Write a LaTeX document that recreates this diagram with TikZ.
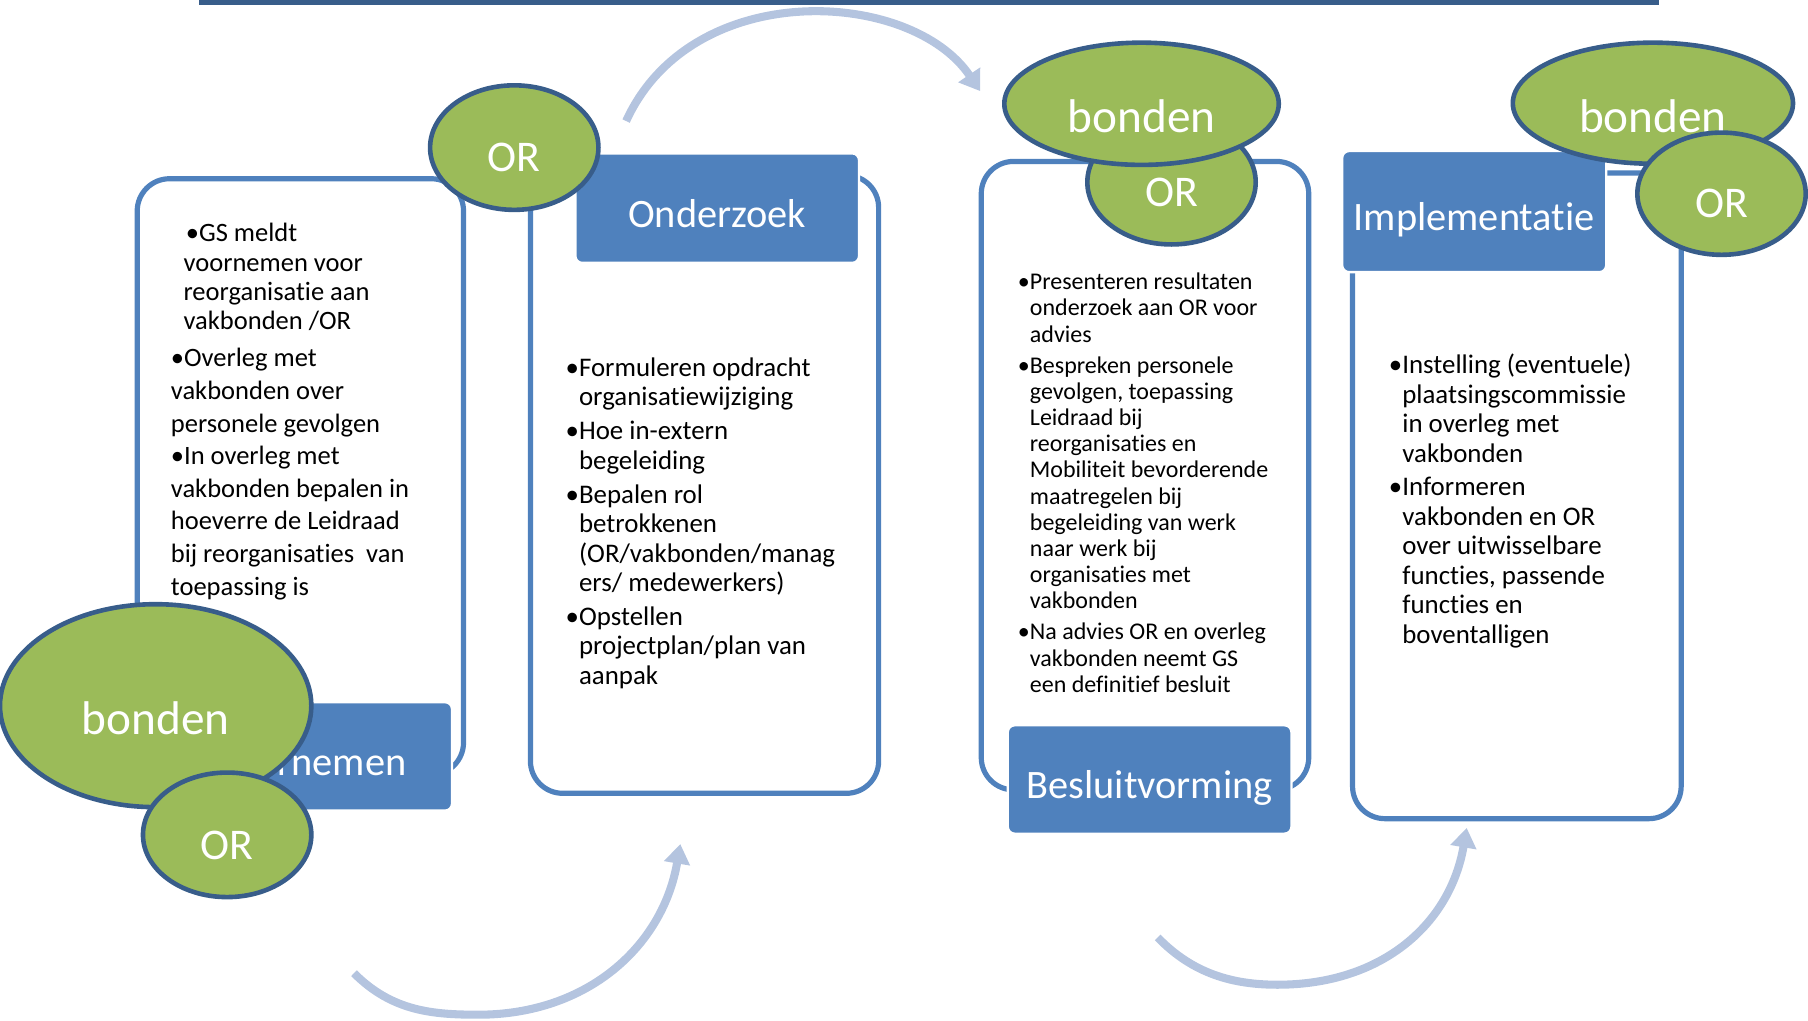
\documentclass[tikz,border=0pt]{standalone}
\usepackage{fontspec}
\setmainfont{Carlito}[Ligatures=NoCommon]
\usetikzlibrary{shapes.geometric,arrows.meta}
\definecolor{boxblue}{HTML}{4F81BD}
\definecolor{edgeblue}{HTML}{385D8A}
\definecolor{leaf}{HTML}{9BBB59}
\definecolor{flow}{HTML}{B4C4DF}
\definecolor{barfill}{HTML}{DCE6F2}
\begin{document}
\begin{tikzpicture}[x=1pt,y=-1pt,
  phasebox/.style={draw=boxblue,line width=4.5pt,rounded corners=28pt,fill=white,inner sep=0pt},
  tag/.style={fill=boxblue,draw=white,line width=2pt,rounded corners=6pt,text=white,
    font=\fontsize{35}{35}\selectfont,inner sep=0pt,text height=33pt,text depth=0pt},
  oval/.style={ellipse,draw=edgeblue,fill=leaf,line width=4pt,inner sep=0pt,text=white},
  ortext/.style={font=\fontsize{38}{38}\selectfont,text height=42pt,text depth=0pt},
  bontext/.style={font=\fontsize{41}{41}\selectfont,text height=50pt,text depth=0pt},
  bullets/.style={anchor=north west,align=left,inner sep=0pt,text=black},
  flowarrow/.style={draw=flow,line width=7pt,-{Triangle[length=17pt,width=22pt]}}
]
\useasboundingbox (0,0) rectangle (1568,885);

% top bar
\node[draw=edgeblue,fill=barfill,line width=4pt,minimum width=1262pt,minimum height=40pt,inner sep=0pt] (bar) at (806,-18) {};

% curved arrows
\coordinate (a1s) at (543,105);
\coordinate (a1e) at (850,79);
\coordinate (a2s) at (307,844);
\coordinate (a2e) at (590,732);
\coordinate (a3s) at (1004,813);
\coordinate (a3e) at (1272,718);
\draw[flowarrow] (a1s) .. controls (600,-20) and (790,-10) .. (a1e);
\draw[flowarrow] (a2s) .. controls (340,877) and (375,880) .. (415,880) .. controls (510,880) and (575,820) .. (a2e);
\draw[flowarrow] (a3s) .. controls (1035,845) and (1070,854) .. (1108,854) .. controls (1200,854) and (1258,800) .. (a3e);

% phase boxes
\node[phasebox,minimum width=283pt,minimum height=517pt] (box1) at (260.5,413.5) {};
\node[phasebox,minimum width=302pt,minimum height=536pt] (box2) at (611,420) {};
\node[phasebox,minimum width=284pt,minimum height=545pt] (box3) at (993,412.5) {};
\node[phasebox,minimum width=285pt,minimum height=560pt] (box4) at (1315.5,430) {};

% texts
\node[bullets,font=\fontsize{23}{25.3}\selectfont] (txt1) at (148,179.6) {%
\rule{0pt}{30pt}\hspace*{13pt}•GS meldt\\
\hspace*{11pt}voornemen voor\\
\hspace*{11pt}reorganisatie aan\\
\hspace*{11pt}vakbonden /OR\\[7.1pt]
•Overleg met\\[3pt]
vakbonden over\\[3pt]
personele gevolgen\\[3pt]
•In overleg met\\[3pt]
vakbonden bepalen in\\[3pt]
hoeverre de Leidraad\\[3pt]
bij reorganisaties\ \ van\\[3pt]
toepassing is};

\node[bullets,font=\fontsize{23.3}{25.3}\selectfont] (txt2) at (502,296) {%
\rule{0pt}{30pt}\llap{•}Formuleren opdracht\\
organisatiewijziging\\[4.7pt]
\llap{•}Hoe in-extern\\
begeleiding\\[4.7pt]
\llap{•}Bepalen rol\\
betrokkenen\\
(OR/vakbonden/manag\\
ers/ medewerkers)\\[4.7pt]
\llap{•}Opstellen\\
projectplan/plan van\\
aanpak};

\node[bullets,font=\fontsize{20.8}{22.7}\selectfont] (txt3) at (893,221) {%
\rule{0pt}{30pt}\llap{•}Presenteren resultaten\\
onderzoek aan OR voor\\
advies\\[4.3pt]
\llap{•}Bespreken personele\\
gevolgen, toepassing\\
Leidraad bij\\
reorganisaties en\\
Mobiliteit bevorderende\\
maatregelen bij\\
begeleiding van werk\\
naar werk bij\\
organisaties met\\
vakbonden\\[4.3pt]
\llap{•}Na advies OR en overleg\\
vakbonden neemt GS\\
een definitief besluit};

\node[bullets,font=\fontsize{23.3}{25.6}\selectfont] (txt4) at (1216,294) {%
\rule{0pt}{30pt}\llap{•}Instelling (eventuele)\\
plaatsingscommissie\\
in overleg met\\
vakbonden\\[3.4pt]
\llap{•}Informeren\\
vakbonden en OR\\
over uitwisselbare\\
functies, passende\\
functies en\\
boventalligen};

% phase labels
\node[tag,minimum width=246pt,minimum height=94pt] (lab1) at (269,656) {Voornemen};
\node[tag,minimum width=246pt,minimum height=95pt] (lab2) at (622,180.5) {Onderzoek};
\node[tag,minimum width=246pt,minimum height=94pt] (lab3) at (997,676) {Besluitvorming};
\node[tag,minimum width=229pt,minimum height=105pt] (lab4) at (1278.5,183.5) {Implementatie};

% ellipses
\node[oval,ortext,minimum width=146pt,minimum height=108pt] (or1) at (446,128) {OR};
\node[oval,ortext,minimum width=146pt,minimum height=108pt] (or3) at (1016,158) {OR};
\node[oval,bontext,minimum width=238pt,minimum height=106pt] (bon3) at (990,90) {bonden};
\node[oval,bontext,minimum width=243pt,minimum height=105pt] (bon4) at (1433.5,89.5) {bonden};
\node[oval,ortext,minimum width=146pt,minimum height=106pt] (or4) at (1493,168) {OR};
\node[oval,bontext,minimum width=270pt,minimum height=176pt] (bon1) at (135,612) {bonden};
\node[oval,ortext,minimum width=146pt,minimum height=108pt] (or1b) at (197,724) {OR};
\end{tikzpicture}
\end{document}
